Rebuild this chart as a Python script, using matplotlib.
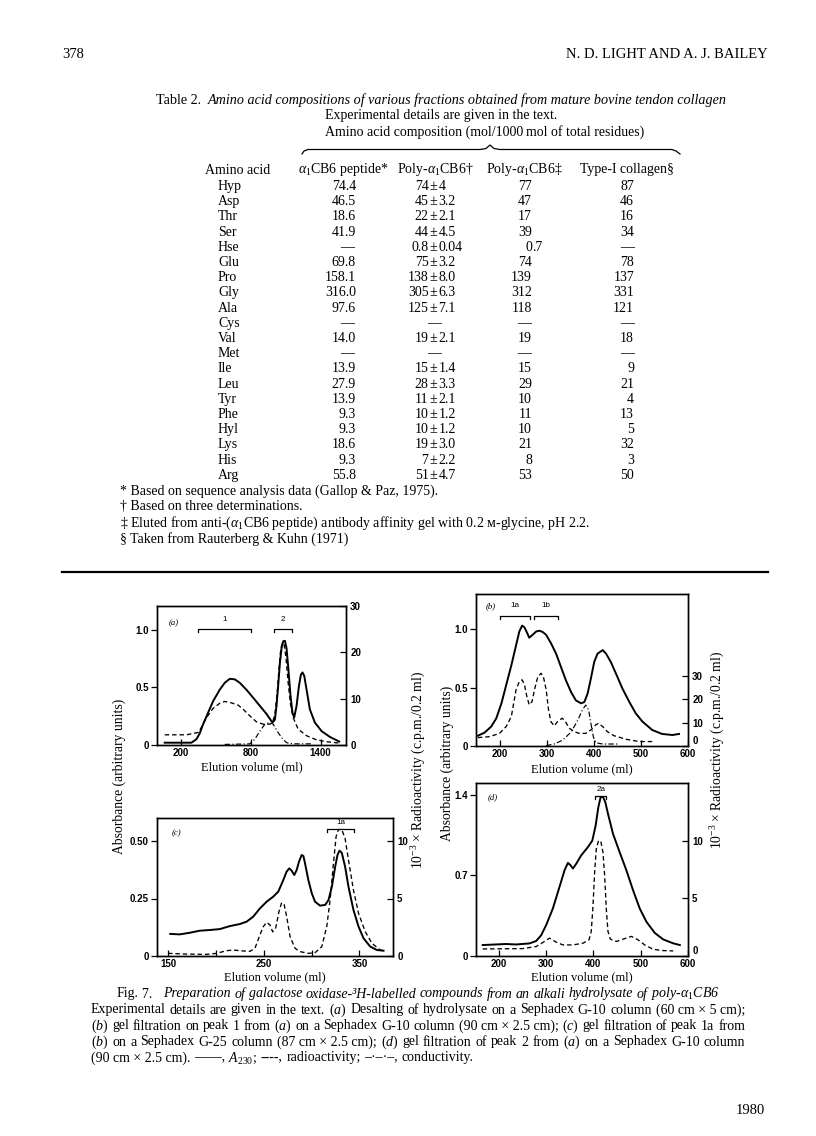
import numpy as np
import matplotlib
matplotlib.use('Agg')
import matplotlib.pyplot as plt
from matplotlib.lines import Line2D

plt.rcParams['mathtext.fontset'] = 'custom'
plt.rcParams['mathtext.rm'] = 'Liberation Serif'
plt.rcParams['mathtext.it'] = 'Liberation Serif:italic'
plt.rcParams['mathtext.bf'] = 'Liberation Serif:bold'
plt.rcParams['font.family'] = ['Liberation Serif', 'DejaVu Serif']

SERIF = 'Liberation Serif'
SANS = 'Liberation Sans'

# ------------------------------------------------------------------ data
# Table 2
amino_acids = ['Hyp', 'Asp', 'Thr', 'Ser', 'Hse', 'Glu', 'Pro', 'Gly', 'Ala', 'Cys',
               'Val', 'Met', 'Ile', 'Leu', 'Tyr', 'Phe', 'Hyl', 'Lys', 'His', 'Arg']
cb6_peptide = ['74.4', '46.5', '18.6', '41.9', '—', '69.8', '158.1', '316.0', '97.6', '—',
               '14.0', '—', '13.9', '27.9', '13.9', '9.3', '9.3', '18.6', '9.3', '55.8']
poly_mean = ['74', '45', '22', '44', '0.8', '75', '138', '305', '125', '—',
             '19', '—', '15', '28', '11', '10', '10', '19', '7', '51']
poly_sd = ['4', '3.2', '2.1', '4.5', '0.04', '3.2', '8.0', '6.3', '7.1', '',
           '2.1', '', '1.4', '3.3', '2.1', '1.2', '1.2', '3.0', '2.2', '4.7']
poly_affinity = ['77', '47', '17', '39', '0.7', '74', '139', '312', '118', '—',
                 '19', '—', '15', '29', '10', '11', '10', '21', '8', '53']
type1_collagen = ['87', '46', '16', '34', '—', '78', '137', '331', '121', '—',
                  '18', '—', '9', '21', '4', '13', '5', '32', '3', '50']
col_headers = ['Amino acid', r'$\alpha_1$CB6 peptide*', r'Poly-$\alpha_1$CB6†',
               r'Poly-$\alpha_1$CB6‡', 'Type-I collagen§']
footnotes = ['* Based on sequence analysis data (Gallop & Paz, 1975).',
             '† Based on three determinations.',
             r'‡ Eluted from anti-($\alpha_1$CB6 peptide) antibody affinity gel with 0.2 м-glycine, pH 2.2.',
             '§ Taken from Rauterberg & Kuhn (1971)']

# Fig. 7 (a): elution volume (ml), A230, radioactivity (10^-3 c.p.m./0.2 ml), conductivity
a_abs_ml = [63, 292, 335, 363, 392, 435, 478, 535, 578, 621, 664, 707, 764, 822, 879, 936, 970, 988,
            1008, 1022, 1036, 1051, 1065, 1079, 1094, 1108, 1122, 1142, 1159, 1174, 1194, 1214,
            1231, 1245, 1260, 1280, 1308, 1351, 1409, 1480, 1560]
a_abs = [0.02, 0.02, 0.05, 0.10, 0.18, 0.28, 0.38, 0.48, 0.54, 0.575, 0.57, 0.54, 0.48, 0.41, 0.34,
         0.27, 0.22, 0.195, 0.22, 0.34, 0.51, 0.71, 0.84, 0.90, 0.905, 0.84, 0.68, 0.43, 0.28, 0.24,
         0.34, 0.51, 0.61, 0.63, 0.60, 0.48, 0.31, 0.195, 0.12, 0.07, 0.03]
a_rad_ml = [63, 249, 349, 378, 421, 478, 535, 578, 635, 693, 736, 793, 850, 907, 965, 988, 1008, 1028,
            1045, 1059, 1074, 1088, 1102, 1122, 1142, 1165, 1208, 1280, 1366, 1452, 1566]
a_rad = [2.2, 2.2, 2.7, 3.8, 5.9, 7.9, 9.0, 9.4, 9.1, 8.6, 7.7, 6.3, 5.0, 4.5, 4.5, 4.9, 6.6, 11.3,
         17.0, 20.9, 22.1, 21.6, 19.1, 13.4, 8.8, 5.9, 3.4, 2.0, 1.1, 0.7, 0.4]
a_cond_ml = [578, 793, 836, 879, 922, 960, 994, 1028, 1065, 1108, 1165, 1337]
a_cond = [0.005, 0.01, 0.05, 0.12, 0.18, 0.195, 0.18, 0.12, 0.065, 0.02, 0.01, 0.01]
a_fractions = {'1': (349, 799), '2': (1002, 1151)}

# Fig. 7 (b)
b_abs_ml = [154, 168, 182, 193, 204, 214, 225, 235, 242, 248, 253, 259, 263, 271, 278, 285, 292, 299,
            309, 320, 330, 341, 352, 362, 373, 380, 387, 394, 401, 408, 419, 426, 436, 447, 461, 475,
            489, 503, 524, 545, 567, 581]
b_abs = [0.088, 0.114, 0.165, 0.236, 0.365, 0.52, 0.69, 0.86, 0.98, 1.03, 1.014, 0.963, 0.926, 0.954,
         0.98, 0.986, 0.974, 0.95, 0.88, 0.79, 0.68, 0.56, 0.46, 0.39, 0.365, 0.376, 0.45, 0.58, 0.72,
         0.79, 0.82, 0.79, 0.72, 0.62, 0.49, 0.38, 0.28, 0.21, 0.137, 0.103, 0.094, 0.103]
b_rad_ml = [154, 179, 200, 214, 225, 235, 242, 248, 253, 258, 263, 269, 274, 281, 288, 293, 299, 304,
            309, 316, 323, 333, 340, 348, 359, 369, 383, 394, 404, 410, 419, 429, 443, 468, 496, 524]
b_rad = [3.6, 4.0, 5.4, 8.3, 12.6, 24.0, 27.6, 28.3, 26.1, 21.1, 17.6, 19.0, 24.0, 29.4, 31.1, 29.7,
         24.0, 15.4, 10.4, 8.6, 10.4, 11.9, 10.4, 7.6, 6.1, 5.4, 5.4, 6.9, 9.0, 9.7, 8.3, 6.1, 4.4,
         2.9, 1.9, 1.9]
b_cond_ml = [299, 316, 334, 352, 366, 376, 383, 389, 394, 399, 404, 419, 454]
b_cond = [0.003, 0.017, 0.05, 0.12, 0.22, 0.31, 0.35, 0.31, 0.19, 0.08, 0.028, 0.017, 0.017]
b_fractions = {'1a': (202, 265), '1b': (273, 325)}

# Fig. 7 (c)
c_abs_ml = [152.4, 162.2, 172.7, 183.2, 193.6, 204.1, 214.6, 225.0, 232.0, 239.0, 246.0, 253.0,
            259.9, 265.2, 270.4, 273.9, 276.7, 279.1, 281.9, 284.4, 286.8, 289.6, 291.4, 293.1,
            296.6, 300.2, 303.6, 308.8, 314.1, 317.6, 321.1, 324.6, 327.0, 329.1, 331.5, 335.0,
            338.5, 343.7, 349.0, 354.2, 361.2, 368.2, 375.1]
c_abs = [0.096, 0.094, 0.101, 0.11, 0.113, 0.117, 0.13, 0.139, 0.149, 0.171, 0.207, 0.236, 0.258,
         0.28, 0.33, 0.367, 0.381, 0.371, 0.352, 0.374, 0.41, 0.439, 0.435, 0.403, 0.33, 0.272,
         0.236, 0.219, 0.222, 0.243, 0.30, 0.388, 0.439, 0.458, 0.449, 0.388, 0.301, 0.20, 0.128,
         0.077, 0.041, 0.026, 0.023]
c_rad_ml = [150.0, 169.2, 190.1, 200.6, 211.1, 218.1, 225.1, 235.5, 240.8, 245.3, 249.5, 253.0,
            256.5, 259.3, 262.4, 265.9, 268.7, 271.2, 274.0, 277.5, 282.7, 287.9, 296.6, 303.6,
            310.6, 315.8, 319.3, 322.8, 325.6, 328.0, 331.5, 335.0, 338.5, 343.7, 349.0, 356.0,
            363.0, 371.7, 375.1]
c_rad = [0.23, 0.17, 0.14, 0.23, 0.46, 0.52, 0.46, 0.4, 0.67, 1.68, 2.55, 2.93, 2.7, 2.1, 2.4, 3.86,
         4.64, 4.5, 3.4, 1.68, 0.67, 0.38, 0.23, 0.29, 0.81, 2.55, 4.87, 8.06, 10.4, 11.0, 11.0,
         10.2, 8.35, 5.74, 3.71, 2.12, 1.1, 0.52, 0.46]
c_fractions = {'1a': (315.8, 344.4)}

# Fig. 7 (d)
d_abs_ml = [166.1, 215.5, 236.7, 265.0, 279.1, 289.7, 300.3, 314.4, 328.5, 339.1, 346.2, 351.8,
            356.8, 363.8, 374.4, 388.6, 397.7, 404.8, 410.5, 415.4, 420.3, 425.3, 430.9, 441.5,
            455.6, 469.8, 483.9, 498.0, 512.1, 529.8, 547.5, 568.6, 582.8]
d_abs = [0.095, 0.104, 0.10, 0.109, 0.13, 0.18, 0.268, 0.412, 0.60, 0.743, 0.807, 0.787, 0.758,
         0.80, 0.873, 0.945, 1.0, 1.13, 1.29, 1.377, 1.38, 1.334, 1.233, 1.06, 0.90, 0.743, 0.57,
         0.412, 0.297, 0.20, 0.144, 0.11, 0.095]
d_rad_ml = [166.1, 250.8, 279.1, 293.2, 307.3, 321.5, 335.6, 356.8, 378.0, 390.7, 395.6, 399.2,
            402.7, 406.2, 411.2, 416.1, 420.3, 423.9, 427.4, 430.9, 435.9, 448.6, 462.7, 480.4,
            494.5, 508.6, 526.3, 547.5, 568.6]
d_rad = [0.61, 0.64, 0.82, 1.17, 1.55, 1.2, 0.96, 0.96, 1.11, 1.4, 2.13, 4.33, 7.25, 9.3, 10.03,
         9.88, 9.0, 6.96, 4.04, 2.13, 1.46, 1.26, 1.46, 1.7, 1.4, 0.96, 0.58, 0.47, 0.44]
d_fractions = {'2a': (404, 427)}

caption_title = r'Preparation of galactose oxidase-³H-labelled compounds from an alkali hydrolysate of poly-$\alpha_1$CB6'
caption_lines = [
    'Experimental details are given in the text. ($\\mathit{a}$) Desalting of hydrolysate on a Sephadex G-10 column (60\u00a0cm\u00a0×\u00a05\u00a0cm);',
    '($\\mathit{b}$) gel filtration on peak 1 from ($\\mathit{a}$) on a Sephadex G-10 column (90\u00a0cm\u00a0×\u00a02.5\u00a0cm); ($\\mathit{c}$) gel filtration of peak 1a from',
    '($\\mathit{b}$) on a Sephadex G-25 column (87\u00a0cm\u00a0×\u00a02.5\u00a0cm); ($\\mathit{d}$) gel filtration of peak 2 from ($\\mathit{a}$) on a Sephadex G-10 column',
    '(90\u00a0cm\u00a0×\u00a02.5\u00a0cm). \u2014\u2014, $\\mathit{A}_{230}$; ----, radioactivity; \u2013\u00b7\u2013\u00b7\u2013, conductivity.',
]

# ------------------------------------------------------------------ figure
W, H = 816, 1136
fig = plt.figure(figsize=(W / 100, H / 100), dpi=100)
fig.patch.set_facecolor('white')
rend = fig.canvas.get_renderer()


def fx(x):
    return x / W


def fy(y):
    return 1 - y / H


def txt(x, y, s, size=10.0, ha='left', va='center', style='normal', family=SERIF, **kw):
    return fig.text(fx(x), fy(y), s, fontsize=size, ha=ha, va=va, style=style,
                    family=family, **kw)


def wpx(t):
    return t.get_window_extent(renderer=rend).width


def space_w(size, style='normal'):
    t1 = txt(0, -50, 'a a', size=size, style=style)
    t2 = txt(0, -50, 'aa', size=size, style=style)
    w = wpx(t1) - wpx(t2)
    t1.remove()
    t2.remove()
    return w


def place_words(words, x0, y, size, x1=None):
    objs = [txt(0, y, w, size=size, style=st) for w, st in words]
    ws = [wpx(o) for o in objs]
    if x1 is None or len(objs) < 2:
        gap = space_w(size)
    else:
        gap = (x1 - x0 - sum(ws)) / (len(ws) - 1)
    x = x0
    for o, w in zip(objs, ws):
        o.set_x(fx(x))
        x += w + gap


# ---- page header
txt(62, 54, '378', size=10.5)
txt(768, 54, 'N. D. LIGHT AND A. J. BAILEY', size=10.5, ha='right')

# ---- table title
TS = 10.0
t1 = txt(156, 100, 'Table 2.', size=TS)
t2 = txt(0, 100, 'Amino acid compositions of various fractions obtained from mature bovine tendon collagen',
         size=TS, style='italic')
tot = wpx(t1) + wpx(t2) + 2 * space_w(TS)
scale = (729 - 156) / tot
for t in (t1, t2):
    t.set_fontsize(TS * scale)
t2.set_x(fx(156 + wpx(t1) + 2 * space_w(TS * scale)))

txt(325, 116, 'Experimental details are given in the text.', size=TS)
txt(325, 132, 'Amino acid composition (mol/1000\u2009mol of total residues)', size=TS)

# brace
bx = [302, 304, 308, 480, 486, 490, 494, 500, 672, 676, 680]
by = [154, 151, 149.5, 149.5, 148.5, 145, 148.5, 149.5, 149.5, 151, 154]
fig.add_artist(Line2D([fx(v) for v in bx], [fy(v) for v in by], color='k', lw=0.9))

# column headers
hdr_x = [238, 343, 435, 524, 627]
for x, s in zip(hdr_x, col_headers):
    txt(x, 170, s, size=TS, ha='center')

row0, dy = 186.5, 15.2
for i, aa in enumerate(amino_acids):
    y = row0 + i * dy
    txt(218, y, aa, size=TS)
    # column 1
    if cb6_peptide[i] == '—':
        txt(347, y, '—', size=TS, ha='center')
    else:
        txt(356, y, cb6_peptide[i], size=TS, ha='right')
    # column 2
    if poly_mean[i] == '—':
        txt(434, y, '—', size=TS, ha='center')
    else:
        txt(428.5, y, poly_mean[i], size=TS, ha='right')
        txt(433.5, y, '±', size=TS, ha='center')
        txt(438.5, y, poly_sd[i], size=TS, ha='left')
    # column 3
    v = poly_affinity[i]
    if v == '—':
        txt(524, y, '—', size=TS, ha='center')
    elif '.' in v:
        a, b = v.split('.')
        txt(532, y, a, size=TS, ha='right')
        txt(532, y, '.' + b, size=TS, ha='left')
    else:
        txt(532, y, v, size=TS, ha='right')
    # column 4
    v = type1_collagen[i]
    if v == '—':
        txt(627, y, '—', size=TS, ha='center')
    else:
        txt(634, y, v, size=TS, ha='right')

for k, s in enumerate(footnotes):
    txt(120, 491 + 16 * k, s, size=TS)

fig.add_artist(Line2D([fx(62), fx(768)], [fy(572), fy(572)], color='k', lw=1.6))


# ---- panels
def make_panel(rect, xlim, yl, yr, xticks, lticks, llabels, rticks, xminor=None, label_y=None,
               lift_right_zero=False):
    l, r_, t, b = rect
    ax = fig.add_axes([fx(l), fy(b), (r_ - l) / W, (b - t) / H])
    ax.set_xlim(*xlim)
    ax.set_ylim(*yl)
    ax2 = ax.twinx()
    ax2.set_ylim(*yr)
    ax.set_xticks(xticks)
    ax.set_xticklabels([str(v) for v in xticks])
    if xminor:
        ax.set_xticks(xminor, minor=True)
    ax.set_yticks(lticks)
    ax.set_yticklabels(llabels)
    ax2.set_yticks(rticks)
    ax2.set_yticklabels([str(v) for v in rticks])
    ax.tick_params(axis='x', which='both', direction='in', length=4, width=0.9, pad=2.5, labelsize=7)
    ax.tick_params(axis='y', direction='out', length=4, width=0.9, pad=2, labelsize=7)
    ax2.tick_params(axis='y', direction='in', length=4, width=0.9, pad=3, labelsize=7)
    for a in (ax, ax2):
        for s in a.spines.values():
            s.set_linewidth(1.0)
        for lab in a.get_xticklabels() + a.get_yticklabels():
            lab.set_family(SANS)
            lab.set_weight('bold')
    if lift_right_zero:
        ax2.get_yticklabels()[0].set_verticalalignment('bottom')
    ax.set_xlabel('Elution volume (ml)', fontsize=9, family=SERIF, va='center')
    ax.xaxis.set_label_coords(0.5, (b - label_y) / (b - t))
    ax.set_zorder(2)
    ax2.set_zorder(3)
    ax.patch.set_visible(False)
    return ax, ax2


def curves(ax, ax2, xs, ys, xr, yr_, xc=None, yc=None):
    ax.plot(xs, ys, color='k', lw=1.4, solid_joinstyle='round')
    ax2.plot(xr, yr_, color='k', lw=0.95, dashes=(3.4, 2.2))
    if xc is not None:
        ax.plot(xc, yc, color='k', lw=0.85, dashes=(4.5, 2, 1, 2))


def brackets(ax, fr, y, d, ly):
    for name, (x0, x1) in fr.items():
        ax.plot([x0, x0, x1, x1], [y - d, y, y, y - d], color='k', lw=0.9)
        ax.text((x0 + x1) / 2, ly, name, ha='center', va='center', fontsize=5.8, family=SANS)


# (a)
ax, ax2 = make_panel((157, 346, 606, 745), (-3, 1618), (0, 1.207), (0, 30),
                     [200, 800, 1400], [0, 0.5, 1.0], ['0', '0.5', '1.0'], [0, 10, 20, 30],
                     label_y=767)
curves(ax, ax2, a_abs_ml, a_abs, a_rad_ml, a_rad, a_cond_ml, a_cond)
brackets(ax, a_fractions, 1.006, 0.025, 1.09)
ax.text(140, 1.06, '(a)', fontsize=6.3, style='italic', family=SERIF, ha='center', va='center')

# (b)
ax, ax2 = make_panel((476, 688, 594, 746), (150, 600), (0, 1.30), (0, 65),
                     [200, 300, 400, 500, 600], [0, 0.5, 1.0], ['0', '0.5', '1.0'], [0, 10, 20, 30],
                     label_y=769, lift_right_zero=True)
curves(ax, ax2, b_abs_ml, b_abs, b_rad_ml, b_rad, b_cond_ml, b_cond)
brackets(ax, b_fractions, 1.114, 0.025, 1.20)
ax.text(182, 1.20, '(b)', fontsize=6.3, style='italic', family=SERIF, ha='center', va='center')

# (c)
ax, ax2 = make_panel((157, 393, 818, 956), (138.5, 385), (0, 0.60), (0, 12),
                     [150, 250, 350], [0, 0.25, 0.50], ['0', '0.25', '0.50'], [0, 5, 10],
                     xminor=[200, 300], label_y=977)
curves(ax, ax2, c_abs_ml, c_abs, c_rad_ml, c_rad)
brackets(ax, c_fractions, 0.551, 0.012, 0.58)
ax.text(159, 0.533, '(c)', fontsize=6.3, style='italic', family=SERIF, ha='center', va='center')

# (d)
ax, ax2 = make_panel((476, 688, 783, 956), (152, 600), (0, 1.50), (0, 15),
                     [200, 300, 400, 500, 600], [0, 0.7, 1.4], ['0', '0.7', '1.4'], [0, 5, 10],
                     label_y=977, lift_right_zero=True)
curves(ax, ax2, d_abs_ml, d_abs, d_rad_ml, d_rad)
brackets(ax, d_fractions, 1.39, 0.03, 1.44)
ax.text(187, 1.38, '(d)', fontsize=6.3, style='italic', family=SERIF, ha='center', va='center')

# shared y-axis titles
YL = 9.8
txt(119, 776, 'Absorbance (arbitrary units)', size=YL, rotation=90, ha='center')
txt(419, 770, r'10$^{-3}$ × Radioactivity (c.p.m./0.2 ml)', size=YL, rotation=90, ha='center')
txt(447, 763, 'Absorbance (arbitrary units)', size=YL, rotation=90, ha='center')
txt(718, 750, r'10$^{-3}$ × Radioactivity (c.p.m./0.2 ml)', size=YL, rotation=90, ha='center')

# ---- caption
CS = 10.0
cy0, cdy = 994, 16
title_words = [('Fig.', 'normal'), ('7.\u2002', 'normal')] + [(w, 'italic') for w in caption_title.split(' ')]
place_words(title_words, 117, cy0, CS)
for k, line in enumerate(caption_lines):
    words = [(w, 'normal') for w in line.split(' ')]
    x1 = 745 if k < len(caption_lines) - 1 else None
    place_words(words, 91, cy0 + cdy * (k + 1), CS, x1=x1)

txt(765, 1110, '1980', size=10.5, ha='right')

fig.savefig('out.png', dpi=100, facecolor='white')
